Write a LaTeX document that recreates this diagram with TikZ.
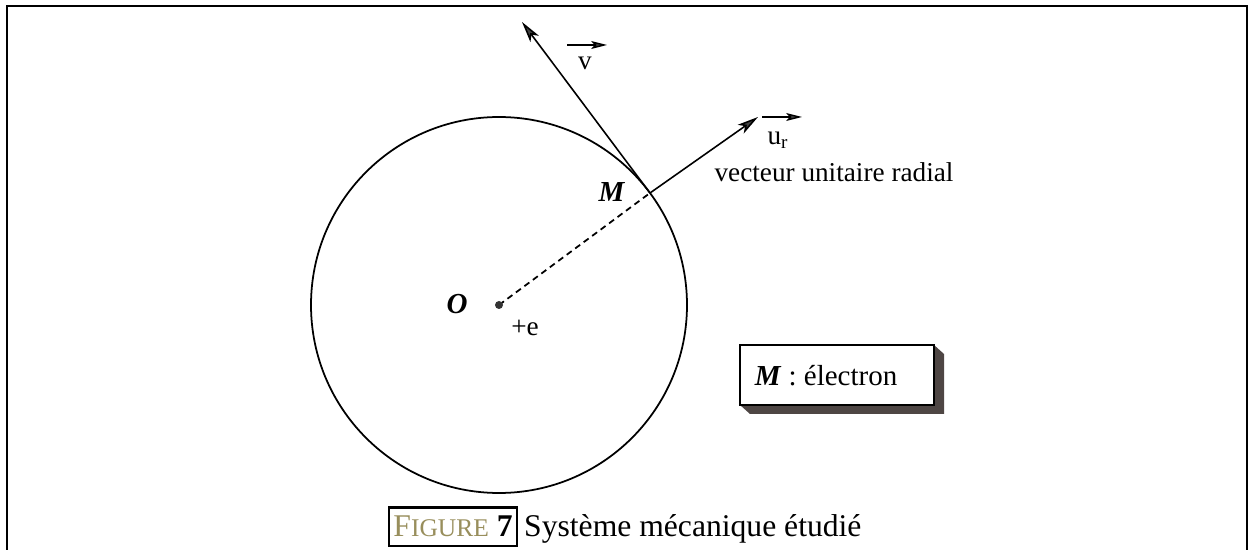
\documentclass[tikz,border=0pt]{standalone}
\usepackage{fontspec}
\setmainfont{Liberation Serif}
\usepackage{xcolor}
\usetikzlibrary{arrows.meta,positioning}
\definecolor{figgold}{RGB}{152,142,92}
\definecolor{shadowgray}{RGB}{78,70,68}
\newcommand{\lblfont}{\fontsize{15.5}{18}\selectfont}
\newcommand{\capfont}{\fontsize{18}{22}\selectfont}
\newcommand{\ptname}[1]{\textbf{\textit{#1}}}

\begin{document}
\begin{tikzpicture}[x=0.02cm,y=-0.02cm,every node/.style={font=\lblfont},
  vec/.style={-{Stealth[length=12pt,width=6pt,inset=3pt,fill=black!75]},line width=0.9pt},
  smallvec/.style={-{Stealth[length=9pt,width=4.5pt,inset=2pt,fill=black!75]},line width=0.8pt}]
  \useasboundingbox (0,0) rectangle (1248,550);
  \draw[line width=1.5pt] (7,550)--(7,6)--(1247,6)--(1247,550);
  % orbit and points
  \coordinate (O) at (499,305);
  \coordinate (M) at (650,193);
  \coordinate (vtip) at (522,22);
  \coordinate (urtip) at (758,117);
  \draw[line width=1pt] (O) circle[radius=188];
  \draw[dash pattern=on 3.5pt off 2.5pt,line width=1pt] (O)--(M);
  \fill[black!80] (O) circle[radius=4];
  \draw[vec] (M)--(vtip);
  \draw[vec] (M)--(urtip);
  % labels
  \node (Olbl) at (457,304){\fontsize{16.5}{18}\selectfont\ptname{O}};
  \node (Mlbl) at (612,192){\fontsize{16.5}{18}\selectfont\ptname{M}};
  \node (charge) at (525,328){+e};
  \node (vlbl) at (585,63){v};
  \draw[smallvec] (567,45)--(607,45);
  \node (urlbl) at (778,140){u\textsubscript{r}};
  \draw[smallvec] (762,117)--(802,117);
  \node (urtxt) at (834,172){vecteur unitaire radial};
  % legend box
  \fill[shadowgray] (934,345)--(944,354)--(944,414)--(750,414)--(740,405)--(934,405)--cycle;
  \draw[fill=white,line width=0.8pt] (740,345) rectangle (934,405);
  \node (elec) at (826,376){\fontsize{16.5}{19}\selectfont\ptname{M} : électron};
  % caption
  \node[draw,line width=1.2pt,inner xsep=2.5pt,inner ysep=5pt,anchor=base west,font=\capfont] (figtag) at (388,537)
    {\textcolor{figgold}{F{\fontsize{14.5}{16}\selectfont IGURE}} \textbf{7}};
  \node[base right=0pt of figtag,font=\capfont] (figtitle){Système mécanique étudié};
\end{tikzpicture}
\end{document}
